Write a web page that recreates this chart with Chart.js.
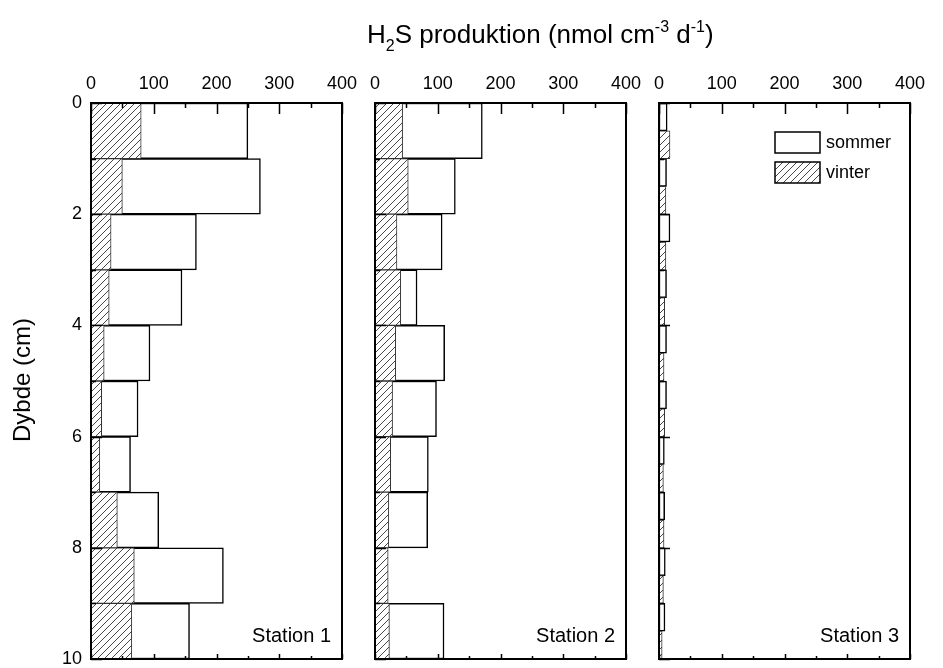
<!DOCTYPE html>
<html>
<head>
<meta charset="utf-8">
<script src="https://cdn.jsdelivr.net/npm/chart.js@4.4.1/dist/chart.umd.min.js"></script>
<style>
  body { margin: 0; background: #fff; font-family: "Liberation Sans", Arial, sans-serif; color: #000; }
  #wrap { position: relative; width: 943px; height: 668px; overflow: hidden; }
  #wrap canvas { position: absolute; left: 0; top: 0; }
  .title { position: absolute; left: 367px; top: 19px; font-size: 26px; white-space: nowrap; }
  .title .lo { position: relative; top: 8px; font-size: 16px; }
  .title .hi { position: relative; top: -11px; font-size: 16px; }
  .ytitle { position: absolute; left: 22px; top: 380px; font-size: 24px; white-space: nowrap;
            transform: translate(-50%, -50%) rotate(-90deg); }
</style>
</head>
<body>
<div id="wrap">
  <canvas id="st1" width="943" height="668"></canvas>
  <canvas id="st2" width="943" height="668"></canvas>
  <canvas id="st3" width="943" height="668"></canvas>
  <div class="title">H<span class="lo">2</span>S produktion (nmol cm<span class="hi">-3</span> d<span class="hi">-1</span>)</div>
  <div class="ytitle">Dybde (cm)</div>
</div>
<script>
// dybdeintervaller (top af hvert 1 cm lag)
const DEPTH_TOP = [0, 1, 2, 3, 4, 5, 6, 7, 8, 9];
const X_TICKS = [0, 100, 200, 300, 400];
const Y_TICKS = [0, 2, 4, 6, 8, 10];
const SERIES = ['sommer', 'vinter'];

const ST1_SOMMER = [250, 270, 168, 145, 94, 75, 63, 108, 211, 157];
const ST1_VINTER = [80, 50, 32, 29, 21, 17, 14, 42, 69, 65];
const ST2_SOMMER = [171, 128, 107, 67, 111, 98, 85, 84, null, 110];
const ST2_VINTER = [44, 53, 35, 41, 33, 28, 25, 22, 21, 23];
const ST3_SOMMER = [13, 12, 17.5, 12, 12, 12, 8.5, 9, 10, 9.5];
const ST3_VINTER = [17.5, 11, 11, 9, 8, 9, 7, 8, 7, 5];

const FONT = '"Liberation Sans", Arial, sans-serif';
const PLOT_TOP = 103;
const PLOT_BOTTOM = 659;

function hatchPattern() {
  const s = 7;
  const c = document.createElement('canvas');
  c.width = s; c.height = s;
  const g = c.getContext('2d');
  g.fillStyle = '#fff';
  g.fillRect(0, 0, s, s);
  g.strokeStyle = '#333';
  g.lineWidth = 0.9;
  g.beginPath();
  g.moveTo(0, s); g.lineTo(s, 0);
  g.moveTo(-1, 1); g.lineTo(1, -1);
  g.moveTo(s - 1, s + 1); g.lineTo(s + 1, s - 1);
  g.stroke();
  return g.createPattern(c, 'repeat');
}

const HATCH = hatchPattern();

// ramme, indadvendte tickmarks, stationsnavn og legende
const framePlugin = {
  id: 'frame',
  afterDatasetsDraw(chart, args, opts) {
    const { ctx, chartArea: a, scales: { x, y } } = chart;
    ctx.save();
    ctx.strokeStyle = '#000';
    ctx.lineWidth = 1.5;
    ctx.beginPath();
    for (let v = 0; v <= 400; v += 50) {
      const px = Math.round(x.getPixelForValue(v)) + 0.5;
      const major = v % 100 === 0;
      ctx.moveTo(px, a.top); ctx.lineTo(px, a.top + (major ? 11 : 5));
      ctx.moveTo(px, a.bottom); ctx.lineTo(px, a.bottom - (major ? 5 : 3));
    }
    for (let d = 0; d <= 10; d += 1) {
      const py = Math.round(y.getPixelForValue(d)) + 0.5;
      ctx.moveTo(a.left, py); ctx.lineTo(a.left + (d % 2 === 0 ? 11 : 5), py);
    }
    ctx.stroke();
    ctx.lineWidth = 2;
    ctx.strokeRect(a.left, a.top, a.right - a.left, a.bottom - a.top);

    ctx.fillStyle = '#000';
    ctx.font = '20px ' + FONT;
    ctx.textAlign = 'right';
    ctx.textBaseline = 'alphabetic';
    ctx.fillText(opts.name, a.right - 11, a.bottom - 17);

    if (opts.legend) {
      const sets = chart.data.datasets;
      const bx = a.right - 135;
      ctx.font = '18px ' + FONT;
      ctx.textAlign = 'left';
      ctx.textBaseline = 'middle';
      SERIES.forEach((name, i) => {
        const ds = sets.find((s) => s.label === name);
        const by = a.top + 29 + i * 30;
        ctx.fillStyle = ds.backgroundColor;
        ctx.fillRect(bx, by, 45, 21);
        ctx.lineWidth = 1.5;
        ctx.strokeStyle = '#000';
        ctx.strokeRect(bx, by, 45, 21);
        ctx.fillStyle = '#000';
        ctx.fillText(name, bx + 51, by + 11);
      });
    }
    ctx.restore();
  }
};

function makePanel(id, name, left, right, sommer, vinter, opts) {
  // station 3: sommer i øverste halvdel af laget, vinter i nederste
  const split = opts.split;
  const toPoints = (vals, offset) =>
    DEPTH_TOP.map((d, i) => ({ x: vals[i], y: d + offset }));
  const showY = !!opts.yLabels;
  const yWidth = showY ? 51 : 0;

  new Chart(document.getElementById(id), {
    type: 'bar',
    data: {
      datasets: [
        {
          label: 'sommer',
          data: toPoints(sommer, split ? 0.25 : 0.5),
          backgroundColor: '#fff',
          borderColor: '#000',
          borderWidth: 1.5,
          borderSkipped: false,
          order: 2
        },
        {
          label: 'vinter',
          data: toPoints(vinter, split ? 0.75 : 0.5),
          backgroundColor: HATCH,
          borderColor: '#333',
          borderWidth: 1,
          borderSkipped: false,
          order: 1
        }
      ]
    },
    options: {
      indexAxis: 'y',
      responsive: false,
      animation: false,
      events: [],
      grouped: false,
      categoryPercentage: 1,
      barPercentage: 1,
      layout: {
        padding: { left: left - yWidth, right: 943 - right, top: PLOT_TOP - 28, bottom: 668 - PLOT_BOTTOM }
      },
      plugins: {
        legend: { display: false },
        tooltip: { enabled: false },
        frame: { name, legend: !!opts.legend }
      },
      scales: {
        x: {
          type: 'linear',
          position: 'top',
          min: 0,
          max: 400,
          offset: false,
          grid: { display: false, drawTicks: false, offset: false },
          border: { display: false },
          ticks: { color: '#000', font: { family: FONT, size: 18 }, padding: 8, maxRotation: 0 },
          afterBuildTicks: (s) => { s.ticks = X_TICKS.map((v) => ({ value: v })); },
          afterFit: (s) => { s.height = 28; s.paddingLeft = 0; s.paddingRight = 0; }
        },
        y: {
          type: 'linear',
          reverse: true,
          min: 0,
          max: 10,
          offset: false,
          grid: { display: false, drawTicks: false, offset: false },
          border: { display: false },
          ticks: { display: showY, color: '#000', font: { family: FONT, size: 18 }, padding: 9 },
          afterBuildTicks: (s) => { s.ticks = Y_TICKS.map((v) => ({ value: v })); },
          afterFit: (s) => { s.width = yWidth; s.paddingTop = 0; s.paddingBottom = 0; }
        }
      }
    },
    plugins: [framePlugin]
  });
}

makePanel('st1', 'Station 1', 91, 342, ST1_SOMMER, ST1_VINTER, { yLabels: true });
makePanel('st2', 'Station 2', 375, 626, ST2_SOMMER, ST2_VINTER, {});
makePanel('st3', 'Station 3', 659, 910, ST3_SOMMER, ST3_VINTER, { split: true, legend: true });
</script>
</body>
</html>
